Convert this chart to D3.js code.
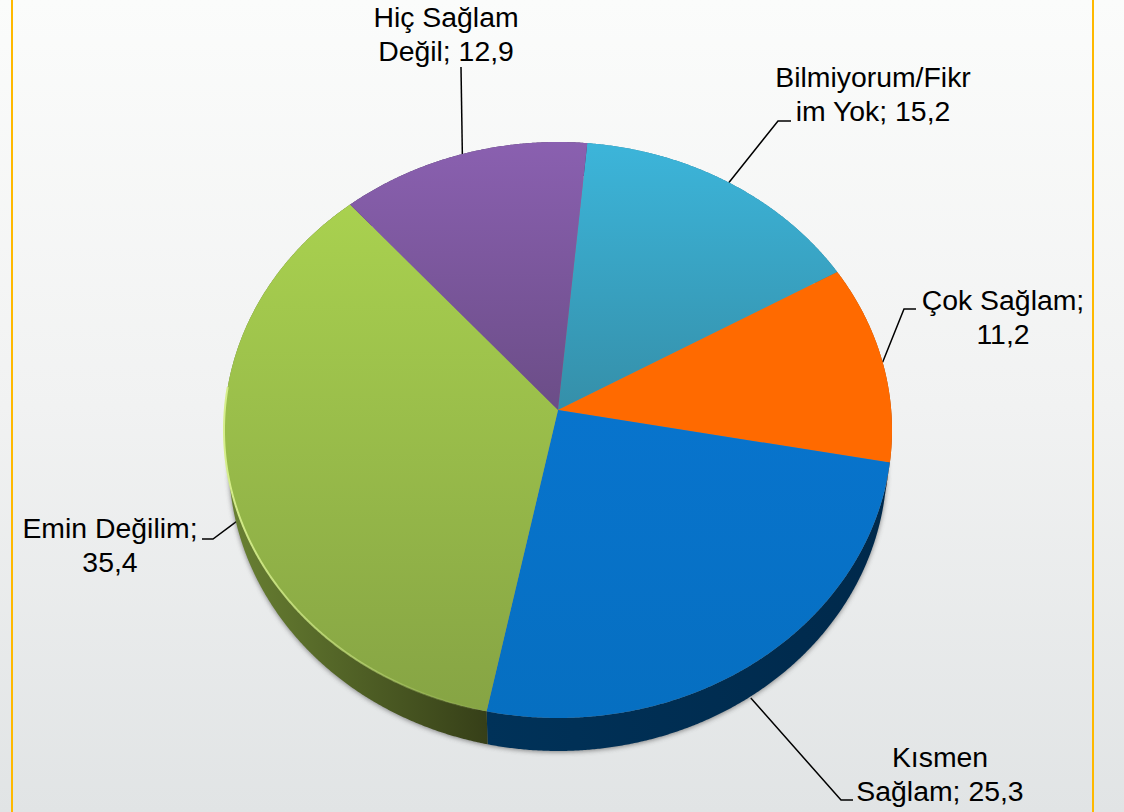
<!DOCTYPE html>
<html>
<head>
<meta charset="utf-8">
<script src="https://cdn.jsdelivr.net/npm/d3@7"></script>
<style>
html, body { margin: 0; padding: 0; background: #fff; }
svg { display: block; }
text { font-family: "Liberation Sans", sans-serif; font-size: 28.4px; fill: #000; text-anchor: middle; }
</style>
</head>
<body>
<script>
// values as printed on the chart, clockwise from the top
var categories = ["Bilmiyorum/Fikr im Yok", "Çok Sağlam", "Kısmen Sağlam", "Emin Değilim", "Hiç Sağlam Değil"];
var values = [15.2, 11.2, 25.3, 35.4, 12.9];
var labelLines = [
    ["Bilmiyorum/Fikr", "im Yok; 15,2"],
    ["Çok Sağlam;", "11,2"],
    ["Kısmen", "Sağlam; 25,3"],
    ["Emin Değilim;", "35,4"],
    ["Hiç Sağlam", "Değil; 12,9"]
];

var width = 1124, height = 812;

// slice look, same order as categories
var topColors = [["#3cb5da", "#358fa9"], ["#ff6a00", "#ff6a00"], ["#0874cd", "#066fc1"], ["#a9d14f", "#86a444"], ["#8a60b0", "#6b4d87"]];
var wallColors = [["#2c7f97", "#2c7f97"], ["#a84600", "#a84600"], ["#003259", "#00294b"], ["#6a8233", "#363f18"], ["#4c3763", "#4c3763"]];

// label placement: centre x, first baseline, elbow and where the leader stops
var labelLayout = [
    { x: 873, y: 87, hook: [791, 121], elbow: [778, 121], off: [0, 1] },
    { x: 1003, y: 310, hook: [916, 309], elbow: [904, 309], off: [0, 0] },
    { x: 940, y: 767, hook: [853, 800], elbow: [841, 800], off: [-5, 36] },
    { x: 110, y: 538, hook: [202, 539], elbow: [213, 539], off: [8, 36] },
    { x: 446, y: 27, hook: [461, 67], elbow: [461, 67], off: [0, 0] }
];

// the tilted disc: unit circle to screen, far side smaller than near side
var cx = 558, cy = 410, rx = 333.2, ry = 286.6, persp = 0.0694, depth = 33;
function project(a) {
    var u = Math.sin(a), v = Math.cos(a), w = 1 + persp * v;
    return [cx + rx * u / w, cy - ry * v / w];
}
function lower(p) {
    return [cx + (p[0] - cx) * 0.985, p[1] + depth];
}
function rim(a0, a1) {
    var pts = d3.range(a0, a1, 0.005).map(project);
    pts.push(project(a1));
    return pts;
}

var start = 5.4 * Math.PI / 180;
var pie = d3.pie().sort(null).startAngle(start).endAngle(start + 2 * Math.PI);
var slices = pie(values);
var line = d3.line();

var svg = d3.select("body").append("svg").attr("width", width).attr("height", height);
var defs = svg.append("defs");

var bg = defs.append("linearGradient").attr("id", "bg").attr("x1", 0).attr("y1", 0).attr("x2", 0).attr("y2", 1);
bg.append("stop").attr("offset", 0).attr("stop-color", "#fbfcfb");
bg.append("stop").attr("offset", 0.5).attr("stop-color", "#f1f2f2");
bg.append("stop").attr("offset", 1).attr("stop-color", "#e1e4e5");

defs.append("filter").attr("id", "soft").attr("x", "-10%").attr("y", "-10%").attr("width", "120%").attr("height", "120%")
    .append("feGaussianBlur").attr("stdDeviation", 2.5);
defs.append("filter").attr("id", "edge").attr("x", "-5%").attr("y", "-5%").attr("width", "110%").attr("height", "110%")
    .append("feGaussianBlur").attr("stdDeviation", 0.7);

slices.forEach(function (d, i) {
    var g = defs.append("linearGradient").attr("id", "top" + i).attr("x1", 0).attr("y1", 0).attr("x2", 0).attr("y2", 1);
    g.append("stop").attr("offset", 0).attr("stop-color", topColors[i][0]);
    g.append("stop").attr("offset", 1).attr("stop-color", topColors[i][1]);
    var w = defs.append("linearGradient").attr("id", "wall" + i).attr("x1", 0).attr("y1", 0).attr("x2", 1).attr("y2", 0);
    w.append("stop").attr("offset", 0).attr("stop-color", wallColors[i][0]);
    w.append("stop").attr("offset", 1).attr("stop-color", wallColors[i][1]);
});

var shine = defs.append("linearGradient").attr("id", "shine").attr("x1", 0).attr("y1", 0).attr("x2", 1).attr("y2", 0);
shine.append("stop").attr("offset", 0).attr("stop-color", "#d6ee8c").attr("stop-opacity", 1);
shine.append("stop").attr("offset", 0.5).attr("stop-color", "#c4e07a").attr("stop-opacity", 0.7);
shine.append("stop").attr("offset", 1).attr("stop-color", "#a9c95a").attr("stop-opacity", 0.15);

svg.append("rect").attr("width", width).attr("height", height).attr("fill", "url(#bg)");

// the two yellow rules of the slide
svg.selectAll("rect.rule").data([11, 1092]).enter().append("rect")
    .attr("class", "rule")
    .attr("x", function (d) { return d; }).attr("y", 0)
    .attr("width", 2).attr("height", height)
    .attr("fill", "#ffb900");

// leaders go under the disc
svg.append("g").selectAll("path").data(slices).enter().append("path")
    .attr("fill", "none").attr("stroke", "#000").attr("stroke-width", 1.5)
    .attr("d", function (d, i) {
        var l = labelLayout[i], p = project((d.startAngle + d.endAngle) / 2);
        return line([[p[0] + l.off[0], p[1] + l.off[1]], l.elbow, l.hook]);
    });

// soft shadow round the disc
var whole = rim(0, 2 * Math.PI).map(lower);
svg.append("path").attr("d", line(whole) + "Z")
    .attr("fill", "#555").attr("opacity", 0.7)
    .attr("filter", "url(#soft)")
    .attr("transform", "translate(0,1)");

// side wall, one piece per slice
svg.append("g").selectAll("path").data(slices).enter().append("path")
    .attr("fill", function (d, i) { return "url(#wall" + i + ")"; })
    .attr("d", function (d) {
        var r = rim(d.startAngle, d.endAngle);
        return line(r.concat(r.slice().reverse().map(lower))) + "Z";
    });

// top face
svg.append("g").selectAll("path").data(slices).enter().append("path")
    .attr("fill", function (d, i) { return "url(#top" + i + ")"; })
    .attr("d", function (d) {
        return line([[cx, cy]].concat(rim(d.startAngle, d.endAngle))) + "Z";
    });

// light catching the near edge of the green slice
var green = slices[3];
svg.append("path")
    .attr("fill", "none").attr("stroke", "url(#shine)").attr("stroke-width", 2)
    .attr("filter", "url(#edge)")
    .attr("d", line(rim(green.startAngle + 0.03, green.startAngle + 1.45)));

// labels
var labels = svg.append("g").selectAll("text").data(labelLines).enter().append("text")
    .attr("x", function (d, i) { return labelLayout[i].x; })
    .attr("y", function (d, i) { return labelLayout[i].y; });
labels.selectAll("tspan").data(function (d) { return d; }).enter().append("tspan")
    .attr("x", function () { return d3.select(this.parentNode).attr("x"); })
    .attr("dy", function (d, i) { return i ? 33.5 : 0; })
    .text(function (d) { return d; });
</script>
</body>
</html>
